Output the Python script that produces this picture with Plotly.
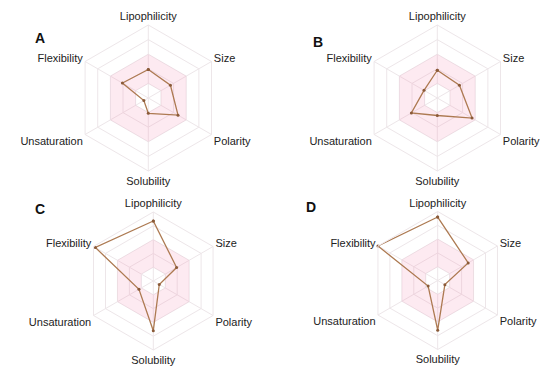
import plotly.graph_objects as go

properties = ["Lipophilicity", "Size", "Polarity", "Solubility", "Unsaturation", "Flexibility"]
panel_labels = ["A", "B", "C", "D"]

values_A = [0.39, 0.35, 0.47, 0.21, 0.07, 0.41]
values_B = [0.38, 0.35, 0.55, 0.24, 0.41, 0.21]
values_C = [0.87, 0.39, 0.10, 0.72, 0.24, 0.97]
values_D = [0.92, 0.51, 0.12, 0.72, 0.16, 1.00]
all_values = [values_A, values_B, values_C, values_D]

optimal_low = 0.2
optimal_high = 0.6
grid_levels = [0.2, 0.4, 0.6, 0.8, 1.0]

W, H = 550, 366
centers = [(148.3, 98), (437.3, 98), (153.3, 281), (437.7, 280.5)]
radii = [73, 73, 69, 69]
letter_pos = [(33, 28), (318, 32), (33, 209), (311, 207)]

fig = go.Figure()
for i, vals in enumerate(all_values):
    pid = "polar" if i == 0 else f"polar{i+1}"
    theta_ring = properties + [properties[0]] + [properties[0]] + properties[::-1]
    r_ring = [optimal_high] * 7 + [optimal_low] * 7
    fig.add_trace(go.Scatterpolar(
        r=r_ring, theta=theta_ring, mode="lines", fill="toself",
        fillcolor="rgba(244,130,170,0.17)", line=dict(width=0),
        hoverinfo="skip", showlegend=False, subplot=pid))
    fig.add_trace(go.Scatterpolar(
        r=vals + [vals[0]], theta=properties + [properties[0]],
        mode="lines+markers", line=dict(color="#ad7a52", width=1.3),
        marker=dict(size=3, color="#8a5a38"), showlegend=False, subplot=pid))

layout = dict(width=W, height=H, margin=dict(l=0, r=0, t=0, b=0),
              paper_bgcolor="white", plot_bgcolor="white",
              font=dict(family="Liberation Sans, Arial, sans-serif", size=11, color="#222"))
grid_col = "#ede6e9"
for i, (cx, cy) in enumerate(centers):
    pid = "polar" if i == 0 else f"polar{i+1}"
    R = radii[i]
    layout[pid] = dict(
        domain=dict(x=[(cx - R) / W, (cx + R) / W], y=[(H - cy - R) / H, (H - cy + R) / H]),
        bgcolor="rgba(0,0,0,0)",
        gridshape="linear",
        radialaxis=dict(range=[0, 1], tickvals=grid_levels, showticklabels=False,
                        ticks="", showline=False, gridcolor=grid_col, gridwidth=1),
        angularaxis=dict(type="category", categoryarray=properties, rotation=90,
                         direction="clockwise", showline=True, linecolor=grid_col,
                         gridcolor=grid_col, ticks="",
                         tickfont=dict(size=11, color="#222")),
    )
annotations = []
for lab, (lx, ly) in zip(panel_labels, letter_pos):
    annotations.append(dict(text=f"<b>{lab}</b>", x=lx / W, y=1 - ly / H, xref="paper", yref="paper",
                            showarrow=False, font=dict(size=14, color="#111",
                            family="Liberation Sans, Arial, sans-serif")))
layout["annotations"] = annotations
fig.update_layout(**layout)
fig.write_html("out.html", config={"displayModeBar": False},
               post_script="document.body.style.margin='0';")
